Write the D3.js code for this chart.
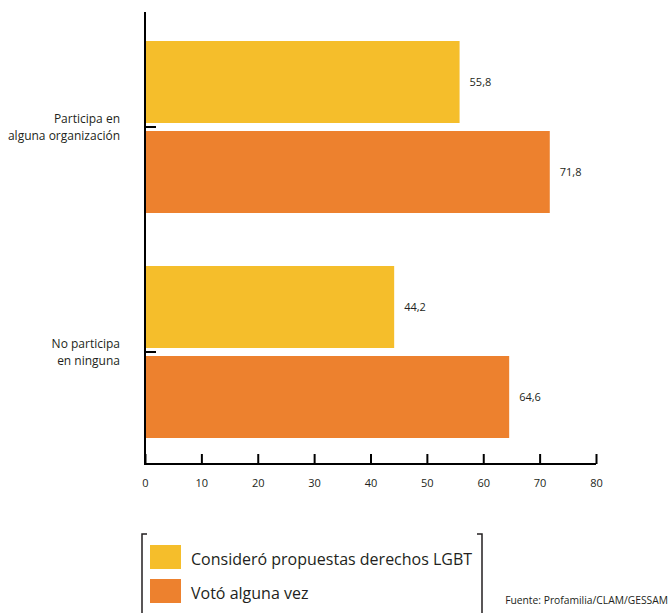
<!DOCTYPE html>
<html>
<head>
<meta charset="utf-8">
<script src="https://cdn.jsdelivr.net/npm/d3@7"></script>
<style>
  body { margin: 0; background: #fff; }
  svg text { font-family: "Open Sans", "Noto Sans", sans-serif; fill: #231f20; }
</style>
</head>
<body>
<div id="chart"></div>
<script>
// datos del gráfico
const categories = ["Participa en alguna organización", "No participa en ninguna"];
const categoryLines = [["Participa en", "alguna organización"], ["No participa", "en ninguna"]];
const seriesNames = ["Consideró propuestas derechos LGBT", "Votó alguna vez"];
const consideroValues = [55.8, 44.2];
const votoValues = [71.8, 64.6];
const xTicks = [0, 10, 20, 30, 40, 50, 60, 70, 80];
const source = "Fuente: Profamilia/CLAM/GESSAM";

const width = 670;
const height = 613;
const colors = ["#f5be2b", "#ed812e"];

const svg = d3.select("#chart").append("svg")
    .attr("width", width)
    .attr("height", height);

const x = d3.scaleLinear().domain([0, 80]).range([145, 596]);
const y = d3.scaleBand().domain(categories).range([14.5, 464.5]).padding(0);
const ySub = d3.scaleBand().domain(seriesNames).range([26.5, 198.5]).paddingInner(0.0889);

const rows = categories.map((c, i) => ({
    cat: c,
    lines: categoryLines[i],
    vals: [consideroValues[i], votoValues[i]]
}));

// barras
const groups = svg.selectAll("g.cat")
    .data(rows)
    .enter().append("g")
    .attr("class", "cat")
    .attr("transform", d => `translate(0,${y(d.cat)})`);

groups.selectAll("rect")
    .data(d => d.vals.map((v, j) => ({ name: seriesNames[j], v: v, j: j })))
    .enter().append("rect")
    .attr("x", x(0))
    .attr("y", d => ySub(d.name))
    .attr("width", d => x(d.v) - x(0))
    .attr("height", ySub.bandwidth())
    .attr("fill", d => colors[d.j]);

groups.selectAll("text.val")
    .data(d => d.vals.map((v, j) => ({ name: seriesNames[j], v: v })))
    .enter().append("text")
    .attr("class", "val")
    .attr("x", d => x(d.v) + 10)
    .attr("y", d => ySub(d.name) + ySub.bandwidth() / 2)
    .attr("dy", "0.35em")
    .style("font-size", "11px")
    .text(d => d3.format(".1f")(d.v).replace(".", ","));

// etiquetas de categoría
groups.each(function (d) {
    const t = d3.select(this).append("text")
        .attr("text-anchor", "end")
        .style("font-size", "12px");
    d.lines.forEach((line, k) => {
        t.append("tspan")
            .attr("x", 120)
            .attr("y", y.bandwidth() / 2 - 8 + k * 16.5)
            .attr("dy", "0.35em")
            .text(line);
    });
});

// eje y
svg.append("line")
    .attr("x1", x(0)).attr("x2", x(0))
    .attr("y1", 12).attr("y2", 465)
    .attr("stroke", "#000").attr("stroke-width", 2);

svg.selectAll("line.ytick")
    .data(categories)
    .enter().append("line")
    .attr("class", "ytick")
    .attr("x1", x(0)).attr("x2", x(0) + 11)
    .attr("y1", d => y(d) + y.bandwidth() / 2)
    .attr("y2", d => y(d) + y.bandwidth() / 2)
    .attr("stroke", "#000").attr("stroke-width", 2);

// eje x
const xAxis = d3.axisBottom(x)
    .tickValues(xTicks)
    .tickSize(-10)
    .tickPadding(15)
    .tickFormat(d3.format("d"));

const gx = svg.append("g")
    .attr("transform", "translate(0,464)")
    .call(xAxis);
gx.select(".domain").attr("stroke", "#000").attr("stroke-width", 2)
    .attr("d", `M${x(0)},0H${x(80)}`);
gx.selectAll(".tick line").attr("stroke", "#000").attr("stroke-width", 2);
gx.selectAll(".tick text")
    .style("font-family", "'Open Sans', 'Noto Sans', sans-serif")
    .style("font-size", "11px")
    .attr("fill", "#231f20");

// leyenda
const legend = svg.append("g");
legend.append("path")
    .attr("d", "M147,534H142V613")
    .attr("fill", "none").attr("stroke", "#231f20").attr("stroke-width", 1.5);
legend.append("path")
    .attr("d", "M477,534H482V613")
    .attr("fill", "none").attr("stroke", "#231f20").attr("stroke-width", 1.5);

const items = legend.selectAll("g.item")
    .data(seriesNames)
    .enter().append("g")
    .attr("class", "item")
    .attr("transform", (d, i) => `translate(150,${545 + i * 34})`);
items.append("rect")
    .attr("width", 31).attr("height", 24)
    .attr("fill", (d, i) => colors[i]);
items.append("text")
    .attr("x", 41).attr("y", 14)
    .attr("dy", "0.35em")
    .style("font-size", "16px")
    .text(d => d);

svg.append("text")
    .attr("x", 668).attr("y", 604)
    .attr("text-anchor", "end")
    .style("font-size", "10.3px")
    .text(source);
</script>
</body>
</html>
